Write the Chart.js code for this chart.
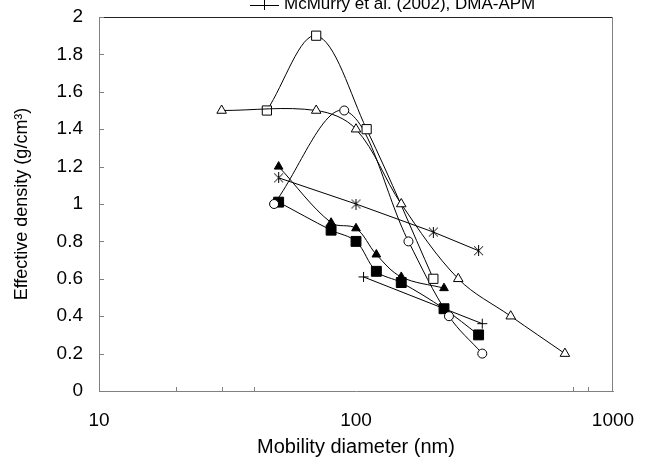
<!DOCTYPE html>
<html>
<head>
<meta charset="utf-8">
<title>Effective density vs mobility diameter</title>
<script src="https://cdn.jsdelivr.net/npm/chart.js@4.4.1/dist/chart.umd.min.js"></script>
<style>
  html, body { margin: 0; padding: 0; background: #fff; }
  #chart { display: block; }
</style>
</head>
<body>
<canvas id="chart" width="648" height="459"></canvas>
<script>
// mobility diameter (nm) and effective density (g/cm3) for each series
const openTriDiam = [30, 70, 100, 150, 250, 400, 650];
const openTriRho = [1.5, 1.5, 1.4, 1.0, 0.6, 0.4, 0.2];

const openSqDiam = [45, 70, 110, 200];
const openSqRho = [1.5, 1.9, 1.4, 0.6];

const openCircDiam = [48, 90, 160, 230, 310];
const openCircRho = [1.0, 1.5, 0.8, 0.4, 0.2];

const fillTriDiam = [50, 80, 100, 120, 150, 220];
const fillTriRho = [1.2, 0.9, 0.87, 0.73, 0.61, 0.55];

const fillSqDiam = [50, 80, 100, 120, 150, 220, 300];
const fillSqRho = [1.01, 0.86, 0.8, 0.64, 0.58, 0.44, 0.3];

const starDiam = [50, 100, 200, 300];
const starRho = [1.14, 1.0, 0.85, 0.75];

const mcmurryDiam = [107, 310];
const mcmurryRho = [0.61, 0.36];
const mcmurryLabel = "McMurry et al. (2002), DMA-APM";

const xTickValues = [10, 100, 1000];
const xMinorTicks = [20, 30, 40, 700, 800];

const FONT = "'Liberation Sans', Arial, sans-serif";
const AXIS_GREY = "#808080";

// excel-style asterisk: an X with a vertical bar
const asterisk = (() => {
  const c = document.createElement("canvas");
  c.width = c.height = 11;
  const g = c.getContext("2d");
  g.strokeStyle = "#000";
  g.lineWidth = 1;
  g.beginPath();
  g.moveTo(5.5, 0); g.lineTo(5.5, 11);
  g.moveTo(1, 1); g.lineTo(10, 10);
  g.moveTo(10, 1); g.lineTo(1, 10);
  g.stroke();
  return c;
})();

const toPoints = (xs, ys) => xs.map((x, i) => ({ x, y: ys[i] }));

const series = (label, xs, ys, opts) => Object.assign({
  label,
  data: toPoints(xs, ys),
  borderColor: "#000",
  borderWidth: 1,
  pointBorderColor: "#000",
  pointBorderWidth: 1,
  pointBackgroundColor: "#fff",
  tension: 0.35
}, opts);

const datasets = [
  series("open triangles", openTriDiam, openTriRho, { pointStyle: "triangle", pointRadius: 5.5 }),
  series("open squares", openSqDiam, openSqRho, { pointStyle: "rect", pointRadius: 6.5 }),
  series("open circles", openCircDiam, openCircRho, { pointStyle: "circle", pointRadius: 4.5 }),
  series("filled triangles", fillTriDiam, fillTriRho, { pointStyle: "triangle", pointRadius: 5, pointBackgroundColor: "#000" }),
  series("filled squares", fillSqDiam, fillSqRho, { pointStyle: "rect", pointRadius: 7, pointBackgroundColor: "#000" }),
  series("asterisks", starDiam, starRho, { pointStyle: asterisk, tension: 0 }),
  series(mcmurryLabel, mcmurryDiam, mcmurryRho, { pointStyle: "cross", pointRadius: 5, tension: 0 })
];

// top/right frame, inside tick marks and the single visible legend entry
const framePlugin = {
  id: "frame",
  beforeDatasetsDraw(chart) {
    const { ctx, chartArea: a, scales } = chart;
    ctx.save();
    ctx.lineWidth = 1;
    ctx.strokeStyle = "#222";
    ctx.beginPath();
    ctx.moveTo(a.left, a.top + 0.5);
    ctx.lineTo(a.right, a.top + 0.5);
    ctx.stroke();
    ctx.strokeStyle = AXIS_GREY;
    ctx.beginPath();
    ctx.moveTo(a.right - 0.5, a.top);
    ctx.lineTo(a.right - 0.5, a.bottom);
    scales.y.ticks.forEach(t => {
      const y = Math.round(scales.y.getPixelForValue(t.value)) + 0.5;
      ctx.moveTo(a.left, y);
      ctx.lineTo(a.left + 5, y);
    });
    xMinorTicks.forEach(v => {
      const x = Math.round(scales.x.getPixelForValue(v)) + 0.5;
      ctx.moveTo(x, a.bottom);
      ctx.lineTo(x, a.bottom - 4);
    });
    ctx.stroke();
    ctx.restore();
  },
  afterDraw(chart) {
    const { ctx } = chart;
    const y = 5;
    ctx.save();
    ctx.strokeStyle = "#000";
    ctx.lineWidth = 1;
    ctx.beginPath();
    ctx.moveTo(250, y + 0.5);
    ctx.lineTo(279, y + 0.5);
    ctx.moveTo(264.5, y - 5);
    ctx.lineTo(264.5, y + 5);
    ctx.stroke();
    ctx.fillStyle = "#000";
    ctx.font = "17px " + FONT;
    ctx.textBaseline = "alphabetic";
    ctx.fillText(mcmurryLabel, 284, 9);
    ctx.restore();
  }
};

new Chart(document.getElementById("chart"), {
  type: "line",
  data: { datasets },
  plugins: [framePlugin],
  options: {
    responsive: false,
    animation: false,
    events: [],
    layout: { padding: { top: 17, right: 35, left: 0, bottom: 0 } },
    plugins: {
      legend: { display: false },
      tooltip: { enabled: false }
    },
    scales: {
      x: {
        type: "logarithmic",
        min: 10,
        max: 1000,
        afterBuildTicks: scale => {
          scale.ticks = xTickValues.map(v => ({ value: v }));
        },
        // fixed axis band; labels may overhang the plot edges
        afterFit: scale => {
          scale.height = 68;
          scale.paddingLeft = 0;
          scale.paddingRight = 0;
        },
        grid: { display: false, drawTicks: false },
        border: { display: true, color: AXIS_GREY, width: 1 },
        ticks: {
          autoSkip: false,
          maxRotation: 0,
          padding: 18,
          color: "#000",
          font: { family: FONT, size: 19 },
          callback: v => String(v)
        },
        title: {
          display: true,
          text: "Mobility diameter (nm)",
          color: "#000",
          font: { family: FONT, size: 20 },
          padding: { top: 0, bottom: 0 }
        }
      },
      y: {
        min: 0,
        max: 2,
        ticks: {
          stepSize: 0.2,
          padding: 16,
          color: "#000",
          font: { family: FONT, size: 19 },
          callback: v => String(+v.toFixed(1))
        },
        afterFit: scale => {
          scale.width = 99;
          scale.paddingTop = 0;
          scale.paddingBottom = 0;
        },
        grid: { display: false, drawTicks: false },
        border: { display: true, color: AXIS_GREY, width: 1 },
        title: {
          display: true,
          text: "Effective density (g/cm³)",
          color: "#000",
          font: { family: FONT, size: 18 },
          padding: { top: 11, bottom: 0 }
        }
      }
    }
  }
});
</script>
</body>
</html>
